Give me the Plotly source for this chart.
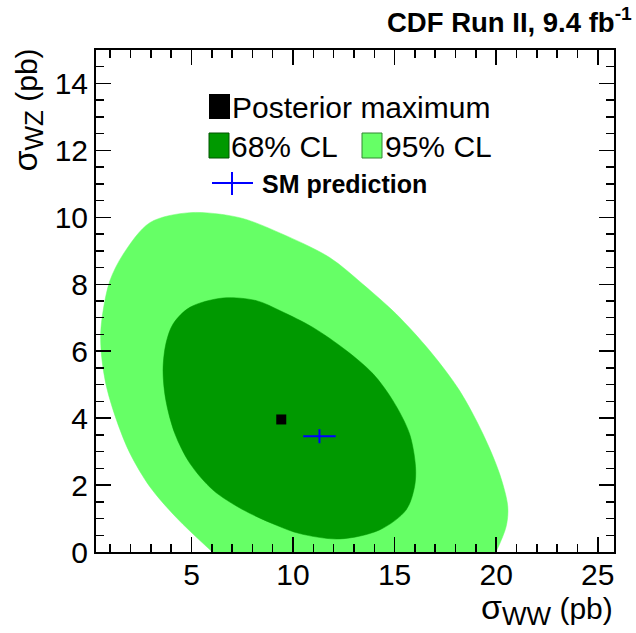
import plotly.graph_objects as go

# 95% CL contour (sigma_WW, sigma_WZ), pb -- open curve, closed along the axis
ww95 = [6.03, 4.3, 2.95, 1.97, 1.31, 0.82, 0.58, 0.53, 0.65, 0.98, 1.64, 2.95,
        4.92, 7.37, 9.4, 11.8, 13.44, 15.08, 16.72, 18.19, 19.34, 20.16, 20.57, 20.49, 19.99]
wz95 = [0.0, 1.0, 1.95, 2.95, 3.94, 4.93, 5.82, 6.52, 7.21, 8.1, 8.9, 9.84,
        10.14, 9.99, 9.52, 8.8, 8.0, 7.11, 6.02, 4.83, 3.54, 2.35, 1.36, 0.76, 0.0]

# 68% CL contour
ww68 = [6.55, 8.2, 9.4, 10.98, 12.62, 13.93, 14.91, 15.73, 16.03, 15.98, 15.57, 14.26, 12.29,
        10.33, 9.18, 7.54, 6.06, 4.92, 4.18, 3.74, 3.6, 3.74, 4.1, 4.92]
wz68 = [7.59, 7.51, 7.2, 6.71, 6.02, 5.33, 4.53, 3.54, 2.55, 1.95, 1.26, 0.66, 0.39,
        0.55, 0.8, 1.26, 1.85, 2.65, 3.54, 4.53, 5.43, 6.22, 6.82, 7.31]

# posterior maximum
ww_max = [9.42]
wz_max = [3.96]

# SM prediction with uncertainties
ww_sm = [11.3]
wz_sm = [3.46]
ww_sm_err = [0.8]
wz_sm_err = [0.21]

LIGHT = "#66ff66"
DARK = "#009900"
FONT = "Liberation Sans, Arial, Helvetica, sans-serif"

fig = go.Figure()
fig.add_trace(go.Scatter(x=ww95, y=wz95, mode="lines", fill="toself",
                         fillcolor=LIGHT, line=dict(color=LIGHT, width=0.5, shape="spline", smoothing=0.9),
                         hoverinfo="skip", showlegend=False))
fig.add_trace(go.Scatter(x=ww68 + ww68[:1], y=wz68 + wz68[:1], mode="lines", fill="toself",
                         fillcolor=DARK, line=dict(color=DARK, width=0.5, shape="spline", smoothing=0.9),
                         hoverinfo="skip", showlegend=False))
fig.add_trace(go.Scatter(x=ww_max, y=wz_max, mode="markers",
                         marker=dict(symbol="square", size=10, color="black"), showlegend=False))
fig.add_trace(go.Scatter(x=ww_sm, y=wz_sm, mode="markers",
                         marker=dict(size=1, color="blue", opacity=0),
                         error_x=dict(type="data", array=ww_sm_err, color="blue", thickness=2, width=0),
                         error_y=dict(type="data", array=wz_sm_err, color="blue", thickness=2, width=0),
                         showlegend=False))

L, R, T, B = 96, 22, 50, 81
W, H = 636, 633
PW, PH = W - L - R, H - T - B


def fx(p):
    return (p - L) / PW


def fy(p):
    return (H - B - p) / PH


axis_common = dict(showline=True, linecolor="black", linewidth=2, mirror="ticks", ticks="inside",
                   tickcolor="black", tickwidth=1.5, ticklen=15, showgrid=False, zeroline=False,
                   tickfont=dict(family=FONT, size=30, color="black"))
fig.update_xaxes(range=[0.3, 25.8], tick0=0, dtick=5,
                 minor=dict(ticks="inside", ticklen=8, tick0=0, dtick=1, tickwidth=1.5,
                            tickcolor="black", showgrid=False),
                 ticklabelstandoff=-5, **axis_common)
fig.update_yaxes(range=[0, 15], tick0=0, dtick=2,
                 minor=dict(ticks="inside", ticklen=8, tick0=0, dtick=0.5, tickwidth=1.5,
                            tickcolor="black", showgrid=False),
                 ticklabelstandoff=0, **axis_common)

shapes = [
    dict(type="rect", xref="paper", yref="paper", x0=fx(209), x1=fx(230), y0=fy(119), y1=fy(94),
         fillcolor="black", line=dict(width=0)),
    dict(type="rect", xref="paper", yref="paper", x0=fx(209), x1=fx(229), y0=fy(158), y1=fy(133),
         fillcolor=DARK, line=dict(color="#005500", width=1)),
    dict(type="rect", xref="paper", yref="paper", x0=fx(362), x1=fx(382), y0=fy(158), y1=fy(133),
         fillcolor=LIGHT, line=dict(color="#338833", width=1)),
    dict(type="line", xref="paper", yref="paper", x0=fx(212), x1=fx(253), y0=fy(183), y1=fy(183),
         line=dict(color="blue", width=2)),
    dict(type="line", xref="paper", yref="paper", x0=fx(232), x1=fx(232), y0=fy(195), y1=fy(172),
         line=dict(color="blue", width=2)),
]

SIG = "<span style='font-size:34px'>σ</span>"
ann = [
    dict(text="Posterior maximum", x=fx(230), y=fy(107), xanchor="left", yanchor="middle",
         font=dict(size=30)),
    dict(text="68% CL", x=fx(229), y=fy(146), xanchor="left", yanchor="middle", font=dict(size=30)),
    dict(text="95% CL", x=fx(383), y=fy(146), xanchor="left", yanchor="middle", font=dict(size=30)),
    dict(text="<b>SM prediction</b>", x=fx(260), y=fy(184), xanchor="left", yanchor="middle",
         font=dict(size=25)),
    dict(text="<b>CDF Run II, 9.4 fb<sup>-1</sup></b>", x=fx(634), y=fy(20), xanchor="right",
         yanchor="middle", font=dict(size=27.5)),
    dict(text=SIG + "<sub><span style='font-size:26px'>WW</span></sub> (pb)", x=fx(615), y=fy(609),
         xanchor="right", yanchor="middle", font=dict(size=30)),
    dict(text=SIG + "<sub><span style='font-size:26px'>WZ</span></sub> (pb)", x=fx(27), y=fy(47),
         xanchor="center", yanchor="top", textangle=-90, font=dict(size=30)),
]
for a in ann:
    a.update(xref="paper", yref="paper", showarrow=False)
    a["font"].update(family=FONT, color="black")

fig.update_layout(width=W, height=H, margin=dict(l=L, r=R, t=T, b=B),
                  paper_bgcolor="white", plot_bgcolor="white",
                  shapes=shapes, annotations=ann, showlegend=False,
                  font=dict(family=FONT, color="black"))

fig.write_html("out.html", config={"displayModeBar": False, "staticPlot": True})
with open("out.html", "r", encoding="utf-8") as f:
    html = f.read()
html = html.replace("<head>", "<head><style>html,body{margin:0;padding:0;overflow:hidden;}</style>", 1)
with open("out.html", "w", encoding="utf-8") as f:
    f.write(html)
